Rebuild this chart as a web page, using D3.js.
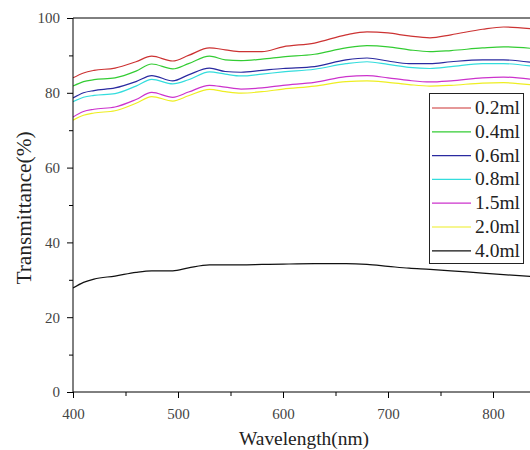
<!DOCTYPE html>
<html><head><meta charset="utf-8">
<script src="https://cdn.jsdelivr.net/npm/d3@7"></script>
<style>body{margin:0;background:#fff}svg{display:block}</style>
</head><body>
<script>
const wavelengths = [400,410,420,440,460,475,495,510,530,545,560,580,600,630,660,680,700,720,740,760,790,810,840];
const s02 = [84,85.3,86,86.6,88.3,89.8,88.5,90,92,91.5,91,91,92.3,93.3,95.5,96.3,96,95.2,94.7,95.5,97,97.6,97];
const s04 = [81.8,83,83.5,84,85.8,87.7,86.4,87.8,89.8,88.8,88.6,89,89.6,90.3,92,92.6,92.3,91.5,91,91.3,92,92.3,91.8];
const s06 = [78.6,80,80.6,81.3,83,84.6,83.2,84.8,86.6,85.7,85.5,86,86.5,87,88.8,89.3,88.5,87.8,87.8,88.3,88.8,88.8,88];
const s08 = [77.6,78.8,79.3,79.8,81.8,83.6,82.4,83.5,85.6,85,84.5,85,85.6,86.3,87.8,88.3,87.6,86.8,86.5,87,87.8,87.8,87];
const s15 = [73.5,75,75.6,76.2,78.2,80.1,78.8,80.2,82,81.5,81,81.3,82,82.8,84.3,84.6,84,83.3,82.9,83.2,84,84.2,83.5];
const s20 = [72.7,74,74.6,75.2,77.2,79,77.8,79.2,80.9,80.3,79.9,80.3,81,81.8,83,83.2,82.8,82.2,81.8,82,82.6,82.7,82];
const s40 = [27.8,29.3,30.2,31,32,32.4,32.4,33.2,34,34,34,34.1,34.2,34.3,34.3,34.1,33.6,33.1,32.8,32.4,31.8,31.4,30.8];
const seriesNames = ["0.2ml","0.4ml","0.6ml","0.8ml","1.5ml","2.0ml","4.0ml"];
const seriesColors = ["#cc3333","#33cc33","#2a2aa0","#33dddd","#cc33cc","#eeee22","#111111"];
const seriesValues = [s02,s04,s06,s08,s15,s20,s40];
const xTicks = [400,500,600,700,800];
const yTicks = [0,20,40,60,80,100];

const W=530,H=450;
const svg=d3.select("body").append("svg").attr("width",W).attr("height",H);
const x=d3.scaleLinear().domain([400,800]).range([73,493]);
const y=d3.scaleLinear().domain([0,100]).range([392,18]);
const font='"Liberation Serif","Times New Roman",serif';

svg.append("defs").append("clipPath").attr("id","c").append("rect")
  .attr("x",73).attr("y",18).attr("width",W-73).attr("height",374);

const line=d3.line().x((d,i)=>x(wavelengths[i])).y(d=>y(d)).curve(d3.curveMonotoneX);
const g=svg.append("g").attr("clip-path","url(#c)");
seriesValues.forEach((vals,k)=>{
  g.append("path").datum(vals).attr("d",line).attr("fill","none")
   .attr("stroke",seriesColors[k]).attr("stroke-width",1.2);
});

const xAx=svg.append("g").attr("transform","translate(0,392)")
  .call(d3.axisBottom(x).tickValues(xTicks).tickSize(6).tickPadding(10).tickFormat(d3.format("d")));
const xMin=svg.append("g").attr("transform","translate(0,392)")
  .call(d3.axisBottom(x).tickValues([450,550,650,750,850]).tickSize(4).tickFormat(""));
const yAx=svg.append("g").attr("transform","translate(73,0)")
  .call(d3.axisLeft(y).tickValues(yTicks).tickSize(6).tickPadding(7));
const yMin=svg.append("g").attr("transform","translate(73,0)")
  .call(d3.axisLeft(y).tickValues([10,30,50,70,90]).tickSize(4).tickFormat(""));
[xAx,xMin,yAx,yMin].forEach(a=>{
  a.attr("font-family",null).attr("font-size",null);
  a.select(".domain").remove();
  a.selectAll("line").attr("stroke","#000");
  a.selectAll("text").style("font-family",font).style("font-size","15px").attr("fill","#444");
});
svg.append("line").attr("x1",73).attr("x2",W).attr("y1",392).attr("y2",392).attr("stroke","#000");
svg.append("line").attr("x1",73).attr("x2",73).attr("y1",18).attr("y2",392).attr("stroke","#000");
svg.append("line").attr("x1",73).attr("x2",W).attr("y1",18).attr("y2",18).attr("stroke","#000");

svg.append("text").attr("x",304).attr("y",445).attr("text-anchor","middle")
  .style("font-family",font).style("font-size","19px").attr("fill","#222")
  .attr("textLength",130).attr("lengthAdjust","spacingAndGlyphs").text("Wavelength(nm)");
svg.append("text").attr("transform","translate(31,208) rotate(-90)").attr("text-anchor","middle")
  .style("font-family",font).style("font-size","20px").attr("fill","#222")
  .attr("textLength",153).attr("lengthAdjust","spacingAndGlyphs").text("Transmittance(%)");

const lg=svg.append("g");
lg.append("rect").attr("x",429.5).attr("y",93.5).attr("width",94).attr("height",170)
  .attr("fill","#fff").attr("stroke","#222").attr("stroke-width",1);
seriesNames.forEach((n,i)=>{
  const yy=108+i*23.8;
  lg.append("line").attr("x1",432).attr("x2",471).attr("y1",yy).attr("y2",yy)
    .attr("stroke",seriesColors[i]).attr("stroke-width",1.2);
  lg.append("text").attr("x",475).attr("y",yy+6).style("font-family",font)
    .style("font-size","18px").attr("fill","#222")
    .attr("textLength",45).attr("lengthAdjust","spacingAndGlyphs").text(n);
});
</script>
</body></html>
